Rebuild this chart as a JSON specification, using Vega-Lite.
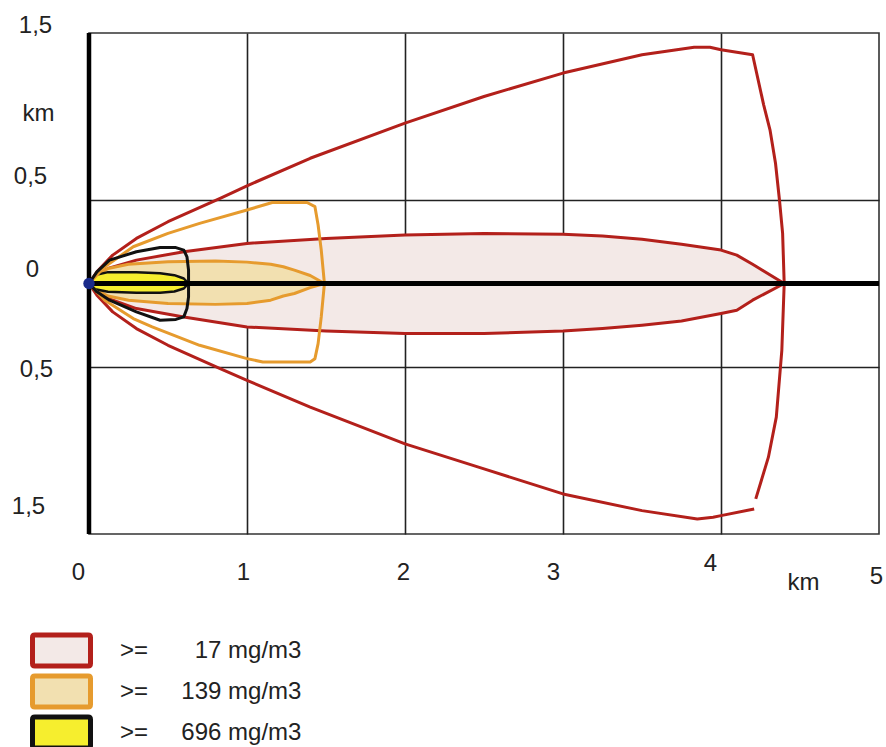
{
  "$schema": "https://vega.github.io/schema/vega-lite/v6.json",
  "width": 790,
  "height": 501,
  "autosize": {"type": "none"},
  "padding": {"left": 89, "top": 33, "right": 7, "bottom": 213},
  "background": "white",
  "config": {
    "font": "Liberation Sans",
    "view": {"stroke": "#333333", "strokeWidth": 1.6}
  },
  "datasets": {
    "cores": [
      {"lvl": "17", "x": 0, "yu": 0, "yl": 0},
      {"lvl": "17", "x": 0.05, "yu": 0.05, "yl": -0.05},
      {"lvl": "17", "x": 0.12, "yu": 0.09, "yl": -0.09},
      {"lvl": "17", "x": 0.3, "yu": 0.14, "yl": -0.15},
      {"lvl": "17", "x": 0.6, "yu": 0.19, "yl": -0.2},
      {"lvl": "17", "x": 1.0, "yu": 0.24, "yl": -0.26},
      {"lvl": "17", "x": 1.5, "yu": 0.27, "yl": -0.285},
      {"lvl": "17", "x": 2.0, "yu": 0.29, "yl": -0.3},
      {"lvl": "17", "x": 2.5, "yu": 0.3, "yl": -0.3},
      {"lvl": "17", "x": 3.0, "yu": 0.295, "yl": -0.285},
      {"lvl": "17", "x": 3.25, "yu": 0.285, "yl": -0.27},
      {"lvl": "17", "x": 3.5, "yu": 0.265, "yl": -0.25},
      {"lvl": "17", "x": 3.75, "yu": 0.235, "yl": -0.225},
      {"lvl": "17", "x": 4.0, "yu": 0.2, "yl": -0.18},
      {"lvl": "17", "x": 4.1, "yu": 0.17, "yl": -0.16},
      {"lvl": "17", "x": 4.2, "yu": 0.115, "yl": -0.1},
      {"lvl": "17", "x": 4.4, "yu": 0, "yl": 0},
      {"lvl": "139", "x": 0, "yu": 0, "yl": 0},
      {"lvl": "139", "x": 0.05, "yu": 0.05, "yl": -0.04},
      {"lvl": "139", "x": 0.12, "yu": 0.09, "yl": -0.075},
      {"lvl": "139", "x": 0.25, "yu": 0.115, "yl": -0.1},
      {"lvl": "139", "x": 0.5, "yu": 0.13, "yl": -0.12},
      {"lvl": "139", "x": 0.8, "yu": 0.135, "yl": -0.125},
      {"lvl": "139", "x": 1.0, "yu": 0.128, "yl": -0.12},
      {"lvl": "139", "x": 1.15, "yu": 0.115, "yl": -0.1},
      {"lvl": "139", "x": 1.23, "yu": 0.1, "yl": -0.075},
      {"lvl": "139", "x": 1.3, "yu": 0.08, "yl": -0.06},
      {"lvl": "139", "x": 1.4, "yu": 0.048, "yl": -0.025},
      {"lvl": "139", "x": 1.49, "yu": 0, "yl": 0},
      {"lvl": "696", "x": 0, "yu": 0, "yl": 0},
      {"lvl": "696", "x": 0.04, "yu": 0.05, "yl": -0.035},
      {"lvl": "696", "x": 0.12, "yu": 0.068, "yl": -0.05},
      {"lvl": "696", "x": 0.3, "yu": 0.068, "yl": -0.055},
      {"lvl": "696", "x": 0.45, "yu": 0.062, "yl": -0.055},
      {"lvl": "696", "x": 0.54, "yu": 0.05, "yl": -0.048},
      {"lvl": "696", "x": 0.6, "yu": 0.03, "yl": -0.03},
      {"lvl": "696", "x": 0.63, "yu": 0, "yl": 0}
    ],
    "outer": [
      {"s": "o17", "lvl": "17", "i": 1, "x": 4.22, "y": -1.29},
      {"s": "o17", "lvl": "17", "i": 2, "x": 4.3, "y": -1.04},
      {"s": "o17", "lvl": "17", "i": 3, "x": 4.35, "y": -0.8},
      {"s": "o17", "lvl": "17", "i": 4, "x": 4.385, "y": -0.4},
      {"s": "o17", "lvl": "17", "i": 5, "x": 4.4, "y": 0},
      {"s": "o17", "lvl": "17", "i": 6, "x": 4.39, "y": 0.3},
      {"s": "o17", "lvl": "17", "i": 7, "x": 4.37, "y": 0.5},
      {"s": "o17", "lvl": "17", "i": 8, "x": 4.345, "y": 0.72},
      {"s": "o17", "lvl": "17", "i": 9, "x": 4.31, "y": 0.92},
      {"s": "o17", "lvl": "17", "i": 10, "x": 4.27, "y": 1.07},
      {"s": "o17", "lvl": "17", "i": 11, "x": 4.2, "y": 1.37},
      {"s": "o17", "lvl": "17", "i": 12, "x": 4.0, "y": 1.4},
      {"s": "o17", "lvl": "17", "i": 13, "x": 3.93, "y": 1.415},
      {"s": "o17", "lvl": "17", "i": 14, "x": 3.83, "y": 1.415},
      {"s": "o17", "lvl": "17", "i": 15, "x": 3.5, "y": 1.37},
      {"s": "o17", "lvl": "17", "i": 16, "x": 3.0, "y": 1.26},
      {"s": "o17", "lvl": "17", "i": 17, "x": 2.5, "y": 1.12},
      {"s": "o17", "lvl": "17", "i": 18, "x": 2.0, "y": 0.96},
      {"s": "o17", "lvl": "17", "i": 19, "x": 1.4, "y": 0.75},
      {"s": "o17", "lvl": "17", "i": 20, "x": 1.0, "y": 0.585},
      {"s": "o17", "lvl": "17", "i": 21, "x": 0.83, "y": 0.51},
      {"s": "o17", "lvl": "17", "i": 22, "x": 0.5, "y": 0.37},
      {"s": "o17", "lvl": "17", "i": 23, "x": 0.3, "y": 0.27},
      {"s": "o17", "lvl": "17", "i": 24, "x": 0.15, "y": 0.17},
      {"s": "o17", "lvl": "17", "i": 25, "x": 0.05, "y": 0.07},
      {"s": "o17", "lvl": "17", "i": 26, "x": 0, "y": 0},
      {"s": "o17", "lvl": "17", "i": 27, "x": 0.05, "y": -0.07},
      {"s": "o17", "lvl": "17", "i": 28, "x": 0.15, "y": -0.17},
      {"s": "o17", "lvl": "17", "i": 29, "x": 0.3, "y": -0.27},
      {"s": "o17", "lvl": "17", "i": 30, "x": 0.5, "y": -0.37},
      {"s": "o17", "lvl": "17", "i": 31, "x": 0.83, "y": -0.51},
      {"s": "o17", "lvl": "17", "i": 32, "x": 1.0, "y": -0.58},
      {"s": "o17", "lvl": "17", "i": 33, "x": 1.4, "y": -0.74},
      {"s": "o17", "lvl": "17", "i": 34, "x": 2.0, "y": -0.96},
      {"s": "o17", "lvl": "17", "i": 35, "x": 2.5, "y": -1.11},
      {"s": "o17", "lvl": "17", "i": 36, "x": 3.0, "y": -1.26},
      {"s": "o17", "lvl": "17", "i": 37, "x": 3.5, "y": -1.36},
      {"s": "o17", "lvl": "17", "i": 38, "x": 3.85, "y": -1.41},
      {"s": "o17", "lvl": "17", "i": 39, "x": 3.95, "y": -1.4},
      {"s": "o17", "lvl": "17", "i": 40, "x": 4.0, "y": -1.39},
      {"s": "o17", "lvl": "17", "i": 41, "x": 4.21, "y": -1.35},
      {"s": "o139", "lvl": "139", "i": 1, "x": 0, "y": 0},
      {"s": "o139", "lvl": "139", "i": 2, "x": 0.1, "y": 0.1},
      {"s": "o139", "lvl": "139", "i": 3, "x": 0.28, "y": 0.22},
      {"s": "o139", "lvl": "139", "i": 4, "x": 0.5, "y": 0.3},
      {"s": "o139", "lvl": "139", "i": 5, "x": 0.7, "y": 0.36},
      {"s": "o139", "lvl": "139", "i": 6, "x": 1.0, "y": 0.44},
      {"s": "o139", "lvl": "139", "i": 7, "x": 1.16, "y": 0.485},
      {"s": "o139", "lvl": "139", "i": 8, "x": 1.38, "y": 0.485},
      {"s": "o139", "lvl": "139", "i": 9, "x": 1.43, "y": 0.46},
      {"s": "o139", "lvl": "139", "i": 10, "x": 1.45, "y": 0.35},
      {"s": "o139", "lvl": "139", "i": 11, "x": 1.47, "y": 0.2},
      {"s": "o139", "lvl": "139", "i": 12, "x": 1.49, "y": 0},
      {"s": "o139", "lvl": "139", "i": 13, "x": 1.47, "y": -0.2},
      {"s": "o139", "lvl": "139", "i": 14, "x": 1.45, "y": -0.36},
      {"s": "o139", "lvl": "139", "i": 15, "x": 1.43, "y": -0.45},
      {"s": "o139", "lvl": "139", "i": 16, "x": 1.4, "y": -0.47},
      {"s": "o139", "lvl": "139", "i": 17, "x": 1.1, "y": -0.47},
      {"s": "o139", "lvl": "139", "i": 18, "x": 1.0, "y": -0.45},
      {"s": "o139", "lvl": "139", "i": 19, "x": 0.7, "y": -0.37},
      {"s": "o139", "lvl": "139", "i": 20, "x": 0.4, "y": -0.26},
      {"s": "o139", "lvl": "139", "i": 21, "x": 0.28, "y": -0.21},
      {"s": "o139", "lvl": "139", "i": 22, "x": 0.1, "y": -0.1},
      {"s": "o139", "lvl": "139", "i": 23, "x": 0, "y": 0},
      {"s": "o696", "lvl": "696", "i": 1, "x": 0, "y": 0},
      {"s": "o696", "lvl": "696", "i": 2, "x": 0.05, "y": 0.07},
      {"s": "o696", "lvl": "696", "i": 3, "x": 0.13, "y": 0.14},
      {"s": "o696", "lvl": "696", "i": 4, "x": 0.3, "y": 0.19},
      {"s": "o696", "lvl": "696", "i": 5, "x": 0.45, "y": 0.215},
      {"s": "o696", "lvl": "696", "i": 6, "x": 0.55, "y": 0.215},
      {"s": "o696", "lvl": "696", "i": 7, "x": 0.6, "y": 0.2},
      {"s": "o696", "lvl": "696", "i": 8, "x": 0.62, "y": 0.16},
      {"s": "o696", "lvl": "696", "i": 9, "x": 0.63, "y": 0.08},
      {"s": "o696", "lvl": "696", "i": 10, "x": 0.63, "y": 0},
      {"s": "o696", "lvl": "696", "i": 11, "x": 0.63, "y": -0.08},
      {"s": "o696", "lvl": "696", "i": 12, "x": 0.62, "y": -0.15},
      {"s": "o696", "lvl": "696", "i": 13, "x": 0.6, "y": -0.2},
      {"s": "o696", "lvl": "696", "i": 14, "x": 0.55, "y": -0.215},
      {"s": "o696", "lvl": "696", "i": 15, "x": 0.45, "y": -0.22},
      {"s": "o696", "lvl": "696", "i": 16, "x": 0.3, "y": -0.17},
      {"s": "o696", "lvl": "696", "i": 17, "x": 0.13, "y": -0.1},
      {"s": "o696", "lvl": "696", "i": 18, "x": 0.05, "y": -0.05},
      {"s": "o696", "lvl": "696", "i": 19, "x": 0, "y": 0}
    ],
    "origin": [{"x": 0, "y": 0}]
  },
  "layer": [
    {
      "data": {"name": "cores"},
      "transform": [{"filter": "datum.lvl == '17'"}],
      "mark": {"type": "area", "strokeWidth": 3, "strokeJoin": "round"},
      "encoding": {
        "x": {
          "field": "x", "type": "quantitative",
          "scale": {"domain": [0, 5], "nice": false, "zero": false},
          "axis": {
            "values": [0, 1, 2, 3, 4, 5],
            "format": "d",
            "title": "km",
            "titleFont": "Liberation Sans", "titleFontSize": 24, "titleFontWeight": "normal", "titleColor": "#222222",
            "titleX": 714, "titleY": 48, "titleAlign": "center", "titleBaseline": "middle", "titleAnchor": null,
            "labelFont": "Liberation Sans", "labelFontSize": 24, "labelColor": "#222222",
            "labelBaseline": "middle", "labelFlush": false, "labelOverlap": false, "labelBound": false,
            "ticks": false, "tickSize": 0, "domain": false,
            "grid": true, "gridColor": "#222222", "gridWidth": 1.6,
            "gridOpacity": {"condition": {"test": "datum.value == 0 || datum.value == 5", "value": 0}, "value": 1},
            "labelOffset": {"condition": [
              {"test": "datum.value == 0", "value": -11},
              {"test": "datum.value == 1", "value": -4},
              {"test": "datum.value == 2", "value": -2},
              {"test": "datum.value == 3", "value": -10},
              {"test": "datum.value == 4", "value": -11}
            ], "value": -3},
            "labelPadding": {"condition": [
              {"test": "datum.value == 4", "value": 29},
              {"test": "datum.value == 5", "value": 42}
            ], "value": 38}
          }
        },
        "y": {
          "field": "yu", "type": "quantitative", "stack": null,
          "scale": {"domain": [-1.5, 1.5], "nice": false, "zero": false},
          "axis": {
            "values": [1.5, 1, 0.5, 0, -0.5, -1.5],
            "title": null,
            "labelExpr": "datum.value == 1 ? 'km' : (datum.value == 0 ? '0' : (abs(datum.value) == 0.5 ? '0,5' : '1,5'))",
            "labelFont": "Liberation Sans", "labelFontSize": 24, "labelColor": "#222222",
            "labelAlign": "center", "labelBaseline": "middle", "labelFlush": false, "labelOverlap": false, "labelBound": false,
            "ticks": false, "tickSize": 0, "domain": false,
            "grid": true, "gridColor": "#222222", "gridWidth": 1.6,
            "gridOpacity": {"condition": {"test": "abs(datum.value) == 0.5", "value": 1}, "value": 0},
            "labelPadding": {"condition": [
              {"test": "datum.value == 1.5", "value": 54},
              {"test": "datum.value == 1", "value": 51},
              {"test": "datum.value == 0.5", "value": 59},
              {"test": "datum.value == 0", "value": 57},
              {"test": "datum.value == -0.5", "value": 53}
            ], "value": 61},
            "labelOffset": {"condition": [
              {"test": "datum.value == 1.5", "value": -8},
              {"test": "datum.value == 1", "value": -3},
              {"test": "datum.value == 0.5", "value": -24},
              {"test": "datum.value == 0", "value": -14},
              {"test": "datum.value == -0.5", "value": 2}
            ], "value": -28}
          }
        },
        "y2": {"field": "yl"},
        "fill": {
          "field": "lvl", "type": "nominal",
          "scale": {"domain": ["17", "139", "696"], "range": ["#f3e9e7", "#f2e0b0", "#f6ee2e"]},
          "legend": {
            "title": null, "orient": "none", "legendX": -59, "legendY": 599, "direction": "vertical", "padding": 0,
            "symbolType": "M-1,-0.45 Q-1,-0.534 -0.92,-0.534 L0.92,-0.534 Q1,-0.534 1,-0.45 L1,0.45 Q1,0.534 0.92,0.534 L-0.92,0.534 Q-1,0.534 -1,0.45 Z",
            "symbolSize": 3364, "symbolStrokeWidth": 5, "symbolOpacity": 1,
            "clipHeight": 37, "rowPadding": 4,
            "labelFont": "Liberation Sans", "labelFontSize": 24, "labelColor": "#222222", "labelOffset": 27, "labelLimit": 400,
            "labelExpr": "datum.label == '17' ? '>=\u00a0\u00a0\u00a0\u00a0\u00a0\u00a0\u00a017 mg/m3' : '>=\u00a0\u00a0\u00a0\u00a0\u00a0' + datum.label + ' mg/m3'"
          }
        },
        "stroke": {
          "field": "lvl", "type": "nominal",
          "scale": {"domain": ["17", "139", "696"], "range": ["#b3201b", "#e69b2e", "#111111"]},
          "legend": {
            "title": null, "orient": "none", "legendX": -59, "legendY": 599, "direction": "vertical", "padding": 0,
            "symbolType": "M-1,-0.45 Q-1,-0.534 -0.92,-0.534 L0.92,-0.534 Q1,-0.534 1,-0.45 L1,0.45 Q1,0.534 0.92,0.534 L-0.92,0.534 Q-1,0.534 -1,0.45 Z",
            "symbolSize": 3364, "symbolStrokeWidth": 5, "symbolOpacity": 1,
            "clipHeight": 37, "rowPadding": 4,
            "labelFont": "Liberation Sans", "labelFontSize": 24, "labelColor": "#222222", "labelOffset": 27, "labelLimit": 400,
            "labelExpr": "datum.label == '17' ? '>=\u00a0\u00a0\u00a0\u00a0\u00a0\u00a0\u00a017 mg/m3' : '>=\u00a0\u00a0\u00a0\u00a0\u00a0' + datum.label + ' mg/m3'"
          }
        }
      }
    },
    {
      "data": {"name": "cores"},
      "transform": [{"filter": "datum.lvl == '139'"}],
      "mark": {"type": "area", "strokeWidth": 3, "strokeJoin": "round"},
      "encoding": {
        "x": {"field": "x", "type": "quantitative"},
        "y": {"field": "yu", "type": "quantitative", "stack": null},
        "y2": {"field": "yl"},
        "fill": {"field": "lvl", "type": "nominal"},
        "stroke": {"field": "lvl", "type": "nominal"}
      }
    },
    {
      "data": {"name": "cores"},
      "transform": [{"filter": "datum.lvl == '696'"}],
      "mark": {"type": "area", "strokeWidth": 2.5, "strokeJoin": "round"},
      "encoding": {
        "x": {"field": "x", "type": "quantitative"},
        "y": {"field": "yu", "type": "quantitative", "stack": null},
        "y2": {"field": "yl"},
        "fill": {"field": "lvl", "type": "nominal"},
        "stroke": {"field": "lvl", "type": "nominal"}
      }
    },
    {
      "data": {"name": "outer"},
      "mark": {"type": "line", "strokeWidth": 3, "strokeJoin": "round"},
      "encoding": {
        "x": {"field": "x", "type": "quantitative"},
        "y": {"field": "y", "type": "quantitative"},
        "detail": {"field": "s"},
        "order": {"field": "i", "type": "quantitative"},
        "stroke": {"field": "lvl", "type": "nominal"}
      }
    },
    {
      "data": {"name": "origin"},
      "mark": {"type": "rule", "color": "#000000", "strokeWidth": 5},
      "encoding": {"y": {"field": "y", "type": "quantitative"}}
    },
    {
      "data": {"name": "origin"},
      "mark": {"type": "rule", "color": "#000000", "strokeWidth": 4.5},
      "encoding": {"x": {"field": "x", "type": "quantitative"}}
    },
    {
      "data": {"name": "origin"},
      "mark": {"type": "point", "filled": true, "size": 130, "color": "#1a2a8a", "opacity": 1},
      "encoding": {"x": {"field": "x", "type": "quantitative"}, "y": {"field": "y", "type": "quantitative"}}
    }
  ]
}
